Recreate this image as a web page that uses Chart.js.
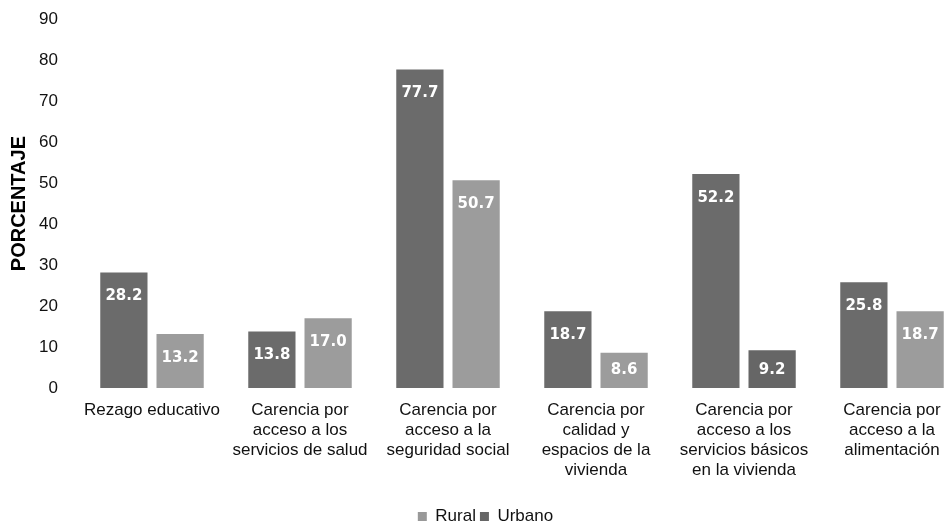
<!DOCTYPE html>
<html>
<head>
<meta charset="utf-8">
<script src="https://cdn.jsdelivr.net/npm/chart.js@4/dist/chart.umd.min.js"></script>
<style>
  html, body { margin: 0; padding: 0; background: #fff; overflow: hidden; }
  #wrap { width: 966px; height: 546px; margin-top: -11px; }
</style>
</head>
<body>
<div id="wrap"><canvas id="chart" width="966" height="546"></canvas></div>
<script>
// categories and values
const categories = [
  ['Rezago educativo'],
  ['Carencia por', 'acceso a los', 'servicios de salud'],
  ['Carencia por', 'acceso a la', 'seguridad social'],
  ['Carencia por', 'calidad y', 'espacios de la', 'vivienda'],
  ['Carencia por', 'acceso a los', 'servicios básicos', 'en la vivienda'],
  ['Carencia por', 'acceso a la', 'alimentación']
];
const rural = [28.2, 13.8, 77.7, 18.7, 52.2, 25.8];
const urbano = [13.2, 17.0, 50.7, 8.6, 9.2, 18.7];
const yTicks = [0, 10, 20, 30, 40, 50, 60, 70, 80, 90];

const darkGray = '#6b6b6b';
const lightGray = '#9c9c9c';

// white numbers inside the bars, near the top
const barLabels = {
  id: 'barLabels',
  afterDatasetsDraw(chart) {
    const ctx = chart.ctx;
    ctx.save();
    ctx.font = 'bold 15px "DejaVu Sans"';
    ctx.fillStyle = '#fff';
    ctx.textAlign = 'center';
    ctx.textBaseline = 'middle';
    chart.data.datasets.forEach((ds, i) => {
      chart.getDatasetMeta(i).data.forEach((bar, j) => {
        let y = Math.min(bar.y + 24, bar.base - 18);
        ctx.fillText(ds.data[j].toFixed(1), bar.x, y);
      });
    });
    ctx.restore();
  }
};

new Chart(document.getElementById('chart'), {
  type: 'bar',
  data: {
    labels: categories,
    datasets: [
      { label: 'Rural', data: rural, backgroundColor: darkGray },
      { label: 'Urbano', data: urbano,
        backgroundColor: urbano.map((v, i) => i === 4 ? '#666' : lightGray) }
    ]
  },
  options: {
    responsive: false,
    animation: false,
    layout: { padding: { top: 8, left: 5, right: 0, bottom: 0 } },
    datasets: { bar: { categoryPercentage: 0.76, barPercentage: 0.84 } },
    scales: {
      x: {
        grid: { display: false, drawTicks: false },
        border: { display: false },
        ticks: {
          color: '#111',
          font: { family: 'Liberation Sans', size: 17, lineHeight: '20px' },
          padding: 12,
          maxRotation: 0,
          autoSkip: false
        },
        afterFit(scale) { scale.height = 116; }
      },
      y: {
        min: 0,
        max: 90,
        grid: { display: false, drawTicks: false },
        border: { display: false },
        afterBuildTicks(scale) { scale.ticks = yTicks.map(v => ({ value: v })); },
        ticks: {
          color: '#111',
          font: { family: 'Liberation Sans', size: 17 },
          padding: 20
        },
        title: {
          display: true,
          text: 'PORCENTAJE',
          color: '#000',
          font: { family: 'Liberation Sans', size: 20, weight: 'bold' },
          padding: { top: 2, bottom: 0 }
        },
        afterFit(scale) { scale.width = 73; }
      }
    },
    plugins: {
      legend: {
        position: 'bottom',
        labels: {
          boxWidth: 9,
          boxHeight: 9,
          padding: 4,
          color: '#111',
          font: { family: 'Liberation Sans', size: 17 },
          generateLabels(chart) {
            const items = Chart.defaults.plugins.legend.labels.generateLabels(chart);
            items[0].fillStyle = '#999';
            items[1].fillStyle = '#666';
            items.forEach(it => { it.strokeStyle = 'transparent'; it.lineWidth = 0; });
            return items;
          }
        }
      },
      tooltip: { enabled: false }
    }
  },
  plugins: [barLabels]
});
</script>
</body>
</html>
